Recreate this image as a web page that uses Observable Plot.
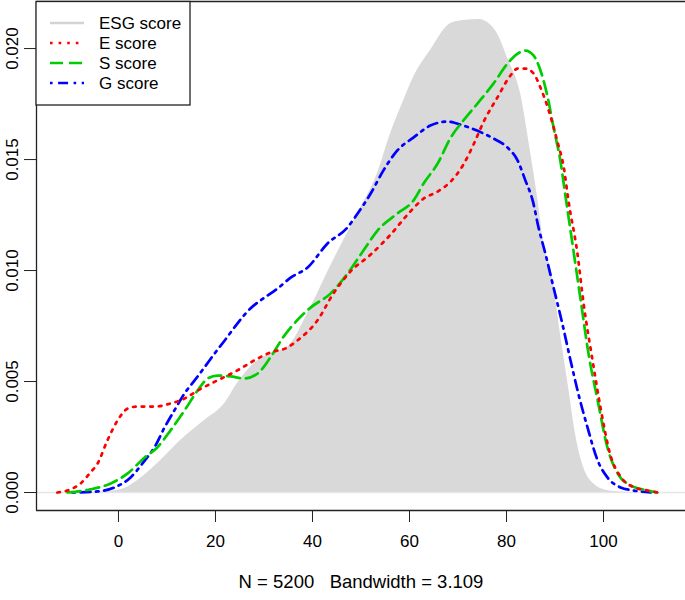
<!DOCTYPE html>
<html>
<head>
<meta charset="utf-8">
<script src="https://cdn.jsdelivr.net/npm/d3@7"></script>
<script src="https://cdn.jsdelivr.net/npm/@observablehq/plot@0.6"></script>
<style>
  body { margin: 0; background: #fff; }
  #chart { width: 685px; height: 600px; }
  svg { font-family: "Liberation Sans", Arial, Helvetica, sans-serif; }
</style>
</head>
<body>
<div id="chart"></div>
<script>
// ---- data ----
const esgX = [-5, -3.7, -0.2, 2.1, 4.5, 8.7, 12.8, 17.7, 21.9, 24.5, 28.0, 31.3, 34.8, 39.6, 44.3, 49.3, 53.4, 56.1, 58.8, 60.8, 64.3, 68.5, 71.1, 74.6, 76.1, 78.1, 80.2, 82.9, 84.9, 86.4, 87.6, 89.5, 91.1, 92.8, 94.2, 95.9, 97.9, 100.8, 103.5, 106];
const esgY = [0, 0.00002, 0.00009, 0.00027, 0.00063, 0.00144, 0.00234, 0.00324, 0.00401, 0.00491, 0.00581, 0.00626, 0.00653, 0.00833, 0.01045, 0.01257, 0.01437, 0.01617, 0.01766, 0.01869, 0.01991, 0.02113, 0.02126, 0.02131, 0.02117, 0.02068, 0.01959, 0.01797, 0.01541, 0.01329, 0.01135, 0.00968, 0.00716, 0.00473, 0.00266, 0.00113, 0.00041, 0.00009, 0.00002, 0];

const eX = [-12.6, -9.9, -7.8, -5.8, -4.3, -2.3, -0.2, 1.9, 3.9, 7.4, 10.7, 13.6, 16.3, 20.4, 24.5, 28.0, 31.3, 34.8, 36.9, 41.0, 44.3, 47.8, 52.0, 56.1, 59.6, 62.9, 65.8, 68.5, 71.1, 73.2, 75.3, 78.1, 80.8, 82.3, 83.9, 85.6, 87.0, 88.7, 90.5, 91.8, 92.8, 94.6, 95.9, 97.7, 99.4, 101.4, 103.5, 106.2, 109.1, 111.1];
const eY = [0, 0.00014, 0.00041, 0.00090, 0.00131, 0.00234, 0.00324, 0.00378, 0.00387, 0.00387, 0.00401, 0.00423, 0.00459, 0.00505, 0.00550, 0.00595, 0.00631, 0.00653, 0.00685, 0.00775, 0.00896, 0.00995, 0.01072, 0.01162, 0.01252, 0.01324, 0.01356, 0.01401, 0.01477, 0.01568, 0.01671, 0.01779, 0.01878, 0.01910, 0.01910, 0.01887, 0.01824, 0.01721, 0.01580, 0.01465, 0.01310, 0.01080, 0.00850, 0.00600, 0.00380, 0.00170, 0.00072, 0.00024, 0.00009, 0];

const sX = [-10.5, -5.8, -1.6, 1.9, 5.4, 8.0, 10.7, 13.6, 16.3, 18.4, 20.4, 23.1, 26.0, 28.7, 31.3, 34.2, 35.5, 39.6, 43.7, 47.2, 50.5, 53.4, 57.5, 60.8, 62.9, 65.8, 68.5, 71.1, 74.0, 77.3, 80.2, 82.3, 83.9, 85.6, 87.0, 88.5, 89.7, 91.1, 92.2, 93.8, 95.3, 96.9, 98.8, 100.8, 102.9, 105.6, 109.1, 111.1];
const sY = [0, 0.00014, 0.00041, 0.00086, 0.00158, 0.00203, 0.00279, 0.00369, 0.00459, 0.00514, 0.00527, 0.00523, 0.00514, 0.00536, 0.00608, 0.00707, 0.00743, 0.00833, 0.00896, 0.00986, 0.01090, 0.01180, 0.01257, 0.01315, 0.01392, 0.01482, 0.01599, 0.01676, 0.01752, 0.01842, 0.01932, 0.01977, 0.01991, 0.01968, 0.01901, 0.01779, 0.01644, 0.01495, 0.01329, 0.01090, 0.00865, 0.00626, 0.00414, 0.00203, 0.00086, 0.00032, 0.00009, 0];

const gX = [-9.5, -4.3, -0.8, 2.5, 5.4, 7.4, 9.5, 11.5, 13.6, 15.7, 17.7, 19.8, 21.9, 24.5, 27.2, 30.1, 32.8, 35.5, 39.0, 43.1, 47.2, 49.3, 52.0, 54.6, 57.5, 60.8, 64.3, 67.8, 71.1, 75.3, 77.3, 80.2, 82.3, 83.9, 85.4, 86.6, 88.0, 89.7, 91.5, 93.2, 94.8, 96.7, 98.8, 100.8, 103.5, 106.2, 109.7];
const gY = [0, 0.00005, 0.00023, 0.00068, 0.00144, 0.00203, 0.00293, 0.00369, 0.00446, 0.00505, 0.00563, 0.00626, 0.00685, 0.00761, 0.00829, 0.00878, 0.00919, 0.00968, 0.01014, 0.01122, 0.01194, 0.01257, 0.01347, 0.01450, 0.01541, 0.01599, 0.01653, 0.01671, 0.01653, 0.01617, 0.01595, 0.01554, 0.01495, 0.01405, 0.01315, 0.01194, 0.01077, 0.00923, 0.00761, 0.00595, 0.00446, 0.00293, 0.00144, 0.00068, 0.00023, 0.00009, 0];

const xTicks = [0, 20, 40, 60, 80, 100];
const yTicks = [0, 0.005, 0.010, 0.015, 0.020];
const yTickLabels = ["0.000", "0.005", "0.010", "0.015", "0.020"];
const xDomain = [-16.9, 116.9];
const yDomain = [-0.00081, 0.02212];
const seriesNames = ["ESG score", "E score", "S score", "G score"];
const caption = "N = 5200   Bandwidth = 3.109";

const toRows = (xs, ys) => xs.map((x, i) => ({x, y: ys[i]}));
const esg = toRows(esgX, esgY);
const eS = toRows(eX, eY);
const sS = toRows(sX, sY);
const gS = toRows(gX, gY);

const colors = {esg: "#d9d9d9", e: "#ff0000", s: "#00cd00", g: "#0000ff"};
const dashes = {e: "2.6,6", s: "13,6", g: "2.6,5.5,10,5.5"};
const lw = 2.7;

const chart = Plot.plot({
  width: 685,
  height: 600,
  marginLeft: 36,
  marginRight: 0,
  marginTop: 1,
  marginBottom: 90,
  style: {fontFamily: '"Liberation Sans", Arial, Helvetica, sans-serif', fontSize: "17px", color: "#000", background: "#fff"},
  x: {domain: xDomain},
  y: {domain: yDomain},
  marks: [
    Plot.areaY(esg, {x: "x", y: "y", fill: colors.esg, curve: "monotone-x"}),
    Plot.ruleY([0], {stroke: "#e6e6e6", strokeWidth: 1.5}),
    Plot.line(gS, {x: "x", y: "y", stroke: colors.g, strokeWidth: lw, strokeDasharray: dashes.g, curve: "monotone-x"}),
    Plot.line(sS, {x: "x", y: "y", stroke: colors.s, strokeWidth: lw, strokeDasharray: dashes.s, curve: "monotone-x"}),
    Plot.line(eS, {x: "x", y: "y", stroke: colors.e, strokeWidth: lw, strokeDasharray: dashes.e, curve: "monotone-x"}),
    Plot.ruleY([yDomain[0], yDomain[1]], {stroke: "#222", strokeWidth: 1.3}),
    Plot.ruleX([xDomain[0]], {stroke: "#222", strokeWidth: 1.3}),
    Plot.axisX({ticks: xTicks, tickSize: 12, tickPadding: 12, fontSize: 17, label: null, stroke: "#222"}),
    Plot.axisY({ticks: yTicks, tickFormat: (d, i) => yTickLabels[i], tickSize: 12, tickPadding: 7, tickRotate: -90, fontSize: 17, label: null, stroke: "#222"}),
    Plot.text([caption], {frameAnchor: "bottom", dy: 77, fontSize: 18.5, fill: "#000"})
  ]
});

document.getElementById("chart").appendChild(chart);

// ---- legend (inside the plot, top-left, as in the reference) ----
const svg = d3.select(chart);
const lg = svg.append("g").attr("class", "legend").attr("text-anchor", "start");
lg.append("rect").attr("x", 36).attr("y", 1.5).attr("width", 154).attr("height", 103.5)
  .attr("fill", "#fff").attr("stroke", "#222").attr("stroke-width", 1.3);
const legendItems = [
  {name: seriesNames[0], color: "#d3d3d3", dash: null},
  {name: seriesNames[1], color: colors.e, dash: dashes.e},
  {name: seriesNames[2], color: colors.s, dash: dashes.s},
  {name: seriesNames[3], color: colors.g, dash: dashes.g}
];
legendItems.forEach((d, i) => {
  const y = 23 + i * 20;
  const ln = lg.append("line").attr("x1", 50).attr("x2", 84).attr("y1", y).attr("y2", y)
    .attr("stroke", d.color).attr("stroke-width", lw);
  if (d.dash) ln.attr("stroke-dasharray", d.dash);
  lg.append("text").attr("x", 99).attr("y", y).attr("dy", "0.36em")
    .attr("text-anchor", "start").attr("font-size", 17).attr("fill", "#000").text(d.name);
});
</script>
</body>
</html>
